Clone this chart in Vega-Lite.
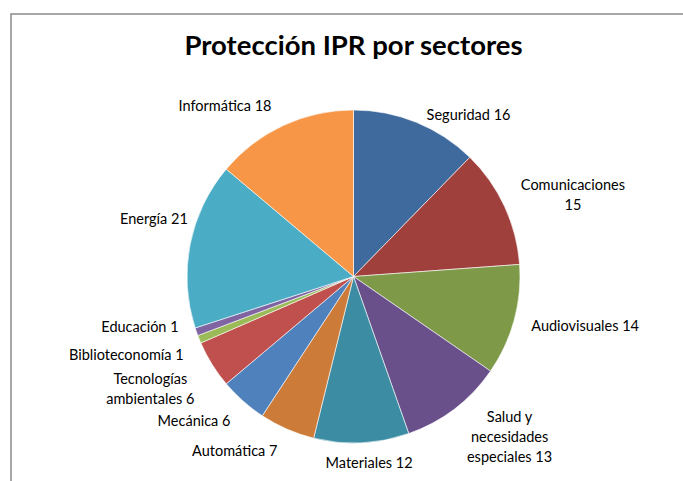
{
  "$schema": "https://vega.github.io/schema/vega-lite/v6.json",
  "autosize": "none",
  "width": 685,
  "height": 525,
  "padding": {"left": 11, "top": 14, "right": -13, "bottom": -58},
  "background": "white",
  "view": {"stroke": "#8a8a8a", "strokeWidth": 1.5},
  "config": {
    "view": {"stroke": "#8a8a8a", "strokeWidth": 1.5},
    "font": "Lato"
  },
  "title": {
    "text": "Protección IPR por sectores",
    "font": "Lato",
    "fontSize": 27.5,
    "fontWeight": "bold",
    "color": "#000000",
    "anchor": "middle",
    "frame": "group",
    "baseline": "alphabetic",
    "offset": -68
  },
  "data": {
    "values": [
      {"idx": 1, "cat": "Seguridad", "value": 16, "label": "Seguridad 16"},
      {"idx": 2, "cat": "Comunicaciones", "value": 15, "label": "Comunicaciones\n15"},
      {"idx": 3, "cat": "Audiovisuales", "value": 14, "label": "Audiovisuales 14"},
      {"idx": 4, "cat": "Salud y necesidades especiales", "value": 13, "label": "Salud y\nnecesidades\nespeciales 13"},
      {"idx": 5, "cat": "Materiales", "value": 12, "label": "Materiales 12"},
      {"idx": 6, "cat": "Automática", "value": 7, "label": "Automática 7"},
      {"idx": 7, "cat": "Mecánica", "value": 6, "label": "Mecánica 6"},
      {"idx": 8, "cat": "Tecnologías ambientales", "value": 6, "label": "Tecnologías\nambientales 6"},
      {"idx": 9, "cat": "Biblioteconomía", "value": 1, "label": "Biblioteconomía 1"},
      {"idx": 10, "cat": "Educación", "value": 1, "label": "Educación 1"},
      {"idx": 11, "cat": "Energía", "value": 21, "label": "Energía 21"},
      {"idx": 12, "cat": "Informática", "value": 18, "label": "Informática 18"}
    ]
  },
  "encoding": {
    "theta": {"field": "value", "type": "quantitative", "stack": true},
    "order": {"field": "idx", "type": "quantitative"},
    "detail": {"field": "cat", "type": "nominal"}
  },
  "layer": [
    {
      "mark": {"type": "arc", "radius": 166.5, "stroke": "#ffffff", "strokeWidth": 0.6},
      "encoding": {
        "color": {
          "field": "cat",
          "type": "nominal",
          "legend": null,
          "sort": {"field": "idx"},
          "scale": {
            "domain": ["Seguridad", "Comunicaciones", "Audiovisuales", "Salud y necesidades especiales", "Materiales", "Automática", "Mecánica", "Tecnologías ambientales", "Biblioteconomía", "Educación", "Energía", "Informática"],
            "range": ["#3F6A9D", "#A0403D", "#7E9A48", "#69508A", "#3C8DA3", "#CC7B38", "#4F81BD", "#C0504D", "#9BBB59", "#8064A2", "#4BACC6", "#F79646"]
          }
        }
      }
    },
    {
      "mark": {"type": "text", "radius": 178, "align": "left", "baseline": "middle", "dx": 6, "dy": 4, "fontSize": 14.5, "lineBreak": "\n", "lineHeight": 20, "color": "#000000"},
      "encoding": {"text": {"condition": {"test": "indexof(['Seguridad','Audiovisuales'], datum.cat) >= 0", "field": "label"}, "value": ""}}
    },
    {
      "mark": {"type": "text", "radius": 178, "align": "center", "baseline": "middle", "dx": 58, "dy": -15, "fontSize": 14.5, "lineBreak": "\n", "lineHeight": 20, "color": "#000000"},
      "encoding": {"text": {"condition": {"test": "datum.cat === 'Comunicaciones'", "field": "label"}, "value": ""}}
    },
    {
      "mark": {"type": "text", "radius": 178, "align": "center", "baseline": "middle", "dx": 48, "dy": 0, "fontSize": 14.5, "lineBreak": "\n", "lineHeight": 20, "color": "#000000"},
      "encoding": {"text": {"condition": {"test": "datum.cat === 'Salud y necesidades especiales'", "field": "label"}, "value": ""}}
    },
    {
      "mark": {"type": "text", "radius": 178, "align": "center", "baseline": "middle", "dx": 7, "dy": 10, "fontSize": 14.5, "lineBreak": "\n", "lineHeight": 20, "color": "#000000"},
      "encoding": {"text": {"condition": {"test": "datum.cat === 'Materiales'", "field": "label"}, "value": ""}}
    },
    {
      "mark": {"type": "text", "radius": 178, "align": "right", "baseline": "middle", "dx": -5, "dy": 12, "fontSize": 14.5, "lineBreak": "\n", "lineHeight": 20, "color": "#000000"},
      "encoding": {"text": {"condition": {"test": "indexof(['Automática','Mecánica','Biblioteconomía'], datum.cat) >= 0", "field": "label"}, "value": ""}}
    },
    {
      "mark": {"type": "text", "radius": 178, "align": "right", "baseline": "middle", "dx": -7, "dy": -8, "fontSize": 14.5, "lineBreak": "\n", "lineHeight": 20, "color": "#000000"},
      "encoding": {"text": {"condition": {"test": "indexof(['Informática','Educación'], datum.cat) >= 0", "field": "label"}, "value": ""}}
    },
    {
      "mark": {"type": "text", "radius": 178, "align": "right", "baseline": "middle", "dx": 9, "dy": -22, "fontSize": 14.5, "lineBreak": "\n", "lineHeight": 20, "color": "#000000"},
      "encoding": {"text": {"condition": {"test": "datum.cat === 'Energía'", "field": "label"}, "value": ""}}
    },
    {
      "mark": {"type": "text", "radius": 178, "align": "center", "baseline": "middle", "dx": -52, "dy": 10, "fontSize": 14.5, "lineBreak": "\n", "lineHeight": 20, "color": "#000000"},
      "encoding": {"text": {"condition": {"test": "datum.cat === 'Tecnologías ambientales'", "field": "label"}, "value": ""}}
    }
  ]
}
